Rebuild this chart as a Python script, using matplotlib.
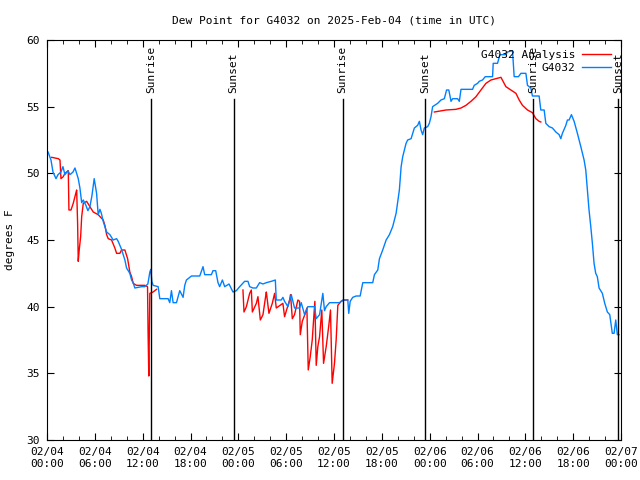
import matplotlib
matplotlib.use('Agg')
import matplotlib.pyplot as plt
import matplotlib.dates as mdates
import numpy as np
import pandas as pd

# hours after 2025-02-04 00:00 UTC
obs_hours = [0.13, 0.50, 0.75, 1.13, 1.38, 1.75, 2.00, 2.25, 2.63, 2.88, 3.26, 3.51, 3.92, 4.13, 4.35,
             4.55, 4.88, 5.13, 5.38, 5.63, 5.92, 6.22, 6.42, 6.64, 6.82, 7.05, 7.26, 7.48, 7.89, 8.30,
             8.73, 8.93, 9.35, 9.77, 9.98, 10.39, 10.61, 10.81, 11.02, 11.86, 12.27, 12.65, 12.90, 13.02,
             13.15, 13.31, 13.94, 14.15, 15.19, 15.40, 15.61, 15.82, 16.24, 16.65, 17.07, 17.28, 17.49,
             18.12, 19.16, 19.57, 19.78, 20.62, 20.82, 21.16, 21.45, 21.66, 22.00, 22.29, 22.83, 23.33,
             23.75, 24.17, 24.79, 25.21, 25.42, 25.83, 26.26, 26.67, 27.09, 27.51, 28.14, 28.64, 28.76,
             29.39, 29.59, 29.80, 30.22, 30.64, 31.05, 31.68, 31.89, 32.31, 32.72, 33.56, 33.77, 34.19,
             34.60, 34.81, 35.02, 35.44, 36.69, 37.10, 37.73, 37.85, 38.03, 38.35, 38.78, 39.28, 39.61,
             40.86, 41.07, 41.49, 41.70, 42.11, 42.54, 42.95, 43.36, 43.79, 44.20, 44.42, 44.62, 45.04,
             45.24, 45.67, 46.08, 46.49, 46.71, 46.92, 47.12, 47.33, 47.75, 47.96, 48.17, 48.37, 49.00,
             49.42, 49.84, 50.12, 50.40, 50.68, 50.88, 51.50, 51.72, 51.93, 53.38, 53.59, 54.01, 54.22,
             54.63, 54.97, 55.89, 55.97, 56.51, 56.81, 57.56, 57.76, 58.39, 58.60, 59.14, 59.44, 60.07,
             60.27, 60.69, 60.89, 61.73, 61.94, 62.36, 62.57, 62.99, 63.40, 63.83, 64.24, 64.45, 64.65,
             65.08, 65.28, 65.49, 65.78, 66.12, 66.53, 66.96, 67.37, 67.58, 67.78, 67.99, 68.21, 68.41,
             68.62, 68.83, 69.03, 69.25, 69.66, 69.96, 70.29, 70.59, 70.91, 71.13, 71.34, 71.54, 71.75]
obs_dew = [51.6, 51.0, 50.1, 49.6, 49.9, 50.1, 50.5, 49.9, 50.2, 49.9, 50.1, 50.4, 49.6, 48.9, 47.8,
           48.0, 47.6, 47.2, 47.5, 48.3, 49.6, 48.5, 46.9, 47.3, 47.0, 46.4, 46.0, 45.6, 45.4, 45.0,
           45.1, 44.9, 44.3, 43.5, 42.9, 42.5, 42.0, 41.8, 41.4, 41.5, 41.5, 41.7, 42.6, 42.8,
           41.9, 41.6, 41.5, 40.6, 40.6, 40.3, 41.2, 40.3, 40.3, 41.2, 40.7, 41.6, 42.0,
           42.3, 42.3, 43.0, 42.4, 42.4, 42.7, 42.7, 41.8, 41.5, 42.0, 41.5, 41.7, 41.1,
           41.2, 41.5, 41.9, 41.9, 41.5, 41.4, 41.4, 41.8, 41.7, 41.8, 41.9, 42.0, 40.5,
           40.5, 40.7, 40.4, 40.0, 40.9, 39.9, 39.9, 40.3, 39.4, 40.0, 40.0, 39.1, 39.4,
           41.0, 39.7, 40.0, 40.3, 40.3, 40.5, 40.5, 39.5, 40.4, 40.7, 40.8, 40.8, 41.8,
           41.8, 42.4, 42.75, 43.6, 44.25, 45.0, 45.4, 46.0, 47.0, 48.75, 50.5, 51.25, 52.25,
           52.5, 52.6, 53.4, 53.6, 53.9, 53.25, 52.9, 53.4, 53.5, 53.75, 54.25, 55.0, 55.25,
           55.5, 55.6, 56.25, 56.25, 55.4, 55.6, 55.6, 55.4, 56.3, 56.3, 56.6, 56.75, 56.9,
           57.0, 57.25, 57.25, 58.25, 58.25, 58.9, 58.9, 59.1, 59.2, 57.25, 57.25, 57.5, 57.5,
           56.6, 56.4, 55.8, 55.8, 54.75, 54.75, 53.75, 53.5, 53.4, 53.1, 52.9, 52.6, 53.0,
           53.6, 54.0, 54.0, 54.4, 53.9, 53.0, 52.0, 51.0, 50.25, 48.75, 47.25, 46.0, 44.75,
           43.25, 42.5, 42.25, 41.4, 41.0, 40.25, 39.6, 39.4, 38.0, 38.0, 39.0, 37.9, 37.9]

ana_hours = [0.59, 1.41, 1.63, 1.75, 2.04, 2.25, 2.47, 2.67, 2.75, 3.01, 3.29, 3.59, 3.72, 3.84, 3.92,
             4.04, 4.22, 4.35, 4.55, 4.97, 5.38, 5.80, 6.42, 7.05, 7.26, 7.48, 7.68, 8.10, 8.51, 8.73,
             9.14, 9.35, 9.77, 10.11, 10.39, 10.61, 10.81, 11.23, 12.27, 12.61, 12.68, 12.77, 12.90,
             13.31, 13.74, 19.0,
             24.58, 24.71, 25.01, 25.42, 25.63, 25.76, 26.26, 26.46, 26.76, 27.09, 27.42, 27.51, 27.84,
             28.26, 28.55, 28.76, 29.59, 29.80, 30.43, 30.55, 30.77, 31.05, 31.47, 31.68, 31.77, 32.02,
             32.40, 32.60, 32.77, 33.02, 33.27, 33.60, 33.77, 33.97, 34.19, 34.47, 34.69, 35.02, 35.35,
             35.56, 35.77, 36.06, 36.27, 36.48, 36.90, 37.31, 37.73, 43.0,
             48.59, 50.05, 51.30, 51.93, 52.55, 53.18, 53.81, 54.43, 55.06, 55.69, 56.31, 56.94, 57.56,
             58.19, 58.82, 59.23, 59.64, 60.27, 60.89, 61.32, 61.73, 61.94]
ana_dew = [51.2, 51.1, 51.0, 49.6, 49.75, 50.0, 50.1, 50.2, 47.25, 47.25, 47.75, 48.45, 48.75, 46.25, 43.4,
           44.25, 45.25, 46.75, 47.75, 47.9, 47.5, 47.1, 46.9, 46.5, 46.1, 45.4, 45.1, 45.0, 44.4, 44.0,
           44.0, 44.25, 44.25, 43.6, 42.6, 42.25, 41.75, 41.6, 41.6, 41.5, 38.0, 34.8, 41.0,
           41.1, 41.3, np.nan,
           41.25, 39.6, 40.0, 41.0, 41.25, 39.6, 40.25, 40.75, 39.0, 39.4, 40.75, 41.1, 39.5,
           40.25, 41.0, 39.9, 40.25, 39.25, 40.5, 40.9, 39.1, 39.4, 40.5, 40.4, 37.9, 38.9,
           39.5, 39.9, 35.25, 36.25, 37.5, 40.4, 35.6, 37.0, 37.75, 39.75, 35.75, 37.0, 38.6,
           39.75, 34.25, 35.75, 37.5, 40.1, 40.4, 40.5, 40.5, np.nan,
           54.6, 54.75, 54.8, 54.9, 55.1, 55.4, 55.75, 56.25, 56.75, 57.0, 57.1, 57.2, 56.5,
           56.25, 56.0, 55.5, 55.1, 54.75, 54.55, 54.1, 53.9, 53.85]

sun_hours = [13.02, 23.42, 37.07, 47.46, 60.98, 71.66]
sun_labels = ['Sunrise', 'Sunset', 'Sunrise', 'Sunset', 'Sunrise', 'Sunset']

start = pd.Timestamp('2025-02-04 00:00')
obs_t = start + pd.to_timedelta(obs_hours, unit='h')
ana_t = start + pd.to_timedelta(ana_hours, unit='h')
sun_t = start + pd.to_timedelta(sun_hours, unit='h')

plt.rcParams['font.family'] = 'DejaVu Sans Mono'
plt.rcParams['font.size'] = 8

fig = plt.figure(figsize=(6.4, 4.8), dpi=100)
ax = fig.add_axes([47 / 640, 40 / 480, 574 / 640, 400 / 480])

ax.plot(ana_t, ana_dew, color='#ff0000', lw=1, label='G4032 Analysis')
ax.plot(obs_t, obs_dew, color='#0080ff', lw=1, label='G4032')

for t, lab in zip(sun_t, sun_labels):
    ax.plot([t, t], [30, 55.6], color='black', lw=1)
    ax.text(t, 56.0, lab, rotation=90, ha='center', va='bottom', fontsize=8)

ax.set_xlim(start, start + pd.Timedelta(hours=72))
ax.set_ylim(30, 60)
ax.xaxis.set_major_locator(mdates.HourLocator(byhour=[0, 6, 12, 18]))
ax.xaxis.set_minor_locator(mdates.HourLocator(byhour=range(0, 24, 2)))
ax.xaxis.set_major_formatter(mdates.DateFormatter('%m/%d\n%H:%M'))
ax.set_yticks(range(30, 61, 5))
ax.tick_params(which='both', direction='in', top=True, right=True)
ax.tick_params(which='major', length=5, pad=5)
ax.tick_params(which='minor', length=3)

ax.set_title('Dew Point for G4032 on 2025-Feb-04 (time in UTC)', fontsize=8, pad=12)
ax.set_ylabel('degrees F', labelpad=8)

ax.legend(loc='upper right', frameon=False, markerfirst=False, handlelength=2.6,
          handletextpad=0.6, borderaxespad=0.9, borderpad=0.0, labelspacing=0.25, fontsize=8)

fig.savefig('out.png', dpi=100)
